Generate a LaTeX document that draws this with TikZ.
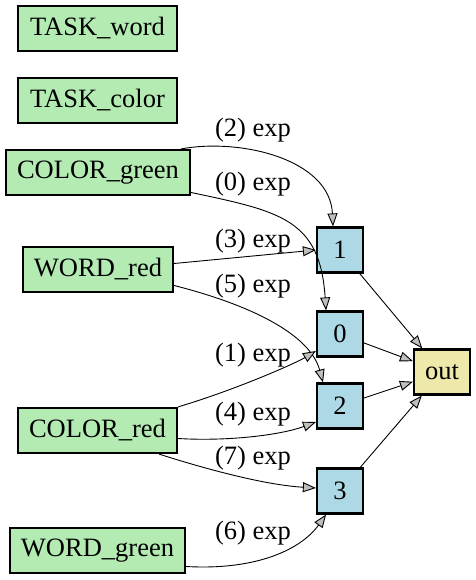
\documentclass[tikz,border=0pt]{standalone}
\usepackage{fontspec}
\setmainfont{Liberation Serif}
\usetikzlibrary{arrows.meta}
\definecolor{ngreen}{HTML}{B3EBB3}
\definecolor{nblue}{HTML}{ADD8E6}
\definecolor{nyellow}{HTML}{EEE8AA}
\definecolor{tipgray}{HTML}{BEBEBE}
\begin{document}
\begin{tikzpicture}[x=1pt,y=-1pt,
  nodebox/.style={draw=black, line width=2.2pt, minimum height=45pt, inner sep=0pt, font=\fontsize{26.5}{28}\selectfont},
  inbox/.style={nodebox, fill=ngreen},
  hidbox/.style={nodebox, fill=nblue, minimum width=46pt},
  outbox/.style={nodebox, fill=nyellow, minimum width=56pt},
  lbl/.style={inner sep=0pt, font=\fontsize{26.5}{28}\selectfont},
  conn/.style={line width=0.9pt, -{Triangle[length=13pt,width=10pt,fill=tipgray]}}
]
\useasboundingbox (0,0) rectangle (475,580);
% input nodes
\node[inbox, minimum width=159pt] (tw) at (97.5,28.5) {TASK\_word};
\node[inbox, minimum width=159pt] (tc) at (97.5,100.5) {TASK\_color};
\node[inbox, minimum width=184pt] (cg) at (98,172.5) {COLOR\_green};
\node[inbox, minimum width=150pt] (wr) at (98,269.5) {WORD\_red};
\node[inbox, minimum width=159pt] (cr) at (97.5,430.5) {COLOR\_red};
\node[inbox, minimum width=175pt] (wg) at (97.5,550.5) {WORD\_green};
% hidden nodes
\node[hidbox] (n1) at (340,250) {1};
\node[hidbox] (n0) at (340,334) {0};
\node[hidbox] (n2) at (340,406) {2};
\node[hidbox] (n3) at (340,491) {3};
\node[outbox] (out) at (442,372) {out};
% edges input -> hidden
\draw[conn] ([xshift=-10pt]cg.north east) .. controls +(60,-11) and +(-3,-67) .. ([xshift=-7pt]n1.north);
\draw[conn] ([yshift=-20pt]cg.east) .. controls +(90,19) and +(-6,-91) .. ([xshift=-14pt]n0.north);
\draw[conn] ([yshift=6pt]wr.east) -- (n1.west);
\draw[conn] ([yshift=-16pt]wr.east) .. controls +(77,19.5) and +(-13,-48) .. ([xshift=-17pt]n2.north);
\draw[conn] (cr.north east) .. controls +(60,-18) and +(-20,12) .. ([yshift=-17pt]n0.west);
\draw[conn] ([yshift=-8pt]cr.east) .. controls +(50,3) and +(-35,13) .. ([yshift=-16pt]n2.west);
\draw[conn] ([xshift=-19pt]cr.south east) .. controls +(50,16) and +(-50,-3) .. ([yshift=3pt]n3.west);
\draw[conn] ([yshift=-16pt]wg.east) .. controls +(70,4) and +(-25,35) .. ([xshift=-14pt]n3.south);
% edges hidden -> out
\draw[conn] (n1) -- (out);
\draw[conn] (n0) -- (out);
\draw[conn] (n2) -- (out);
\draw[conn] (n3) -- (out);
% labels
\node[lbl] (l2) at (253,130) {(2) exp};
\node[lbl] (l0) at (253,184) {(0) exp};
\node[lbl] (l3) at (253,241) {(3) exp};
\node[lbl] (l5) at (253,286) {(5) exp};
\node[lbl] (l1) at (253,355) {(1) exp};
\node[lbl] (l4) at (253,414) {(4) exp};
\node[lbl] (l7) at (253,458) {(7) exp};
\node[lbl] (l6) at (253,533) {(6) exp};
\end{tikzpicture}
\end{document}
